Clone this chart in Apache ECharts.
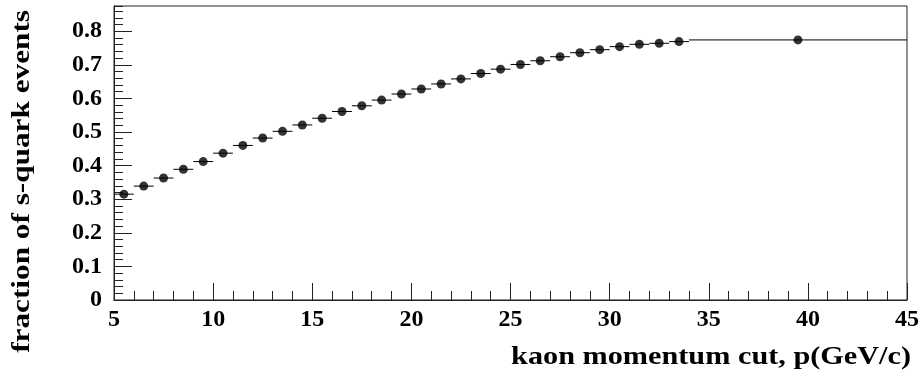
<!DOCTYPE html>
<html>
<head>
<meta charset="utf-8">
<script src="https://cdn.jsdelivr.net/npm/echarts@6/dist/echarts.min.js"></script>
<style>
  html, body { margin: 0; padding: 0; background: #fff; }
  #chart { width: 922px; height: 377px; }
</style>
</head>
<body>
<div id="chart"></div>
<script>
// Bin edges of the kaon momentum cut (GeV/c); the last bin is wide (34-45).
const binEdges = [5, 6, 7, 8, 9, 10, 11, 12, 13, 14, 15, 16, 17, 18, 19, 20,
  21, 22, 23, 24, 25, 26, 27, 28, 29, 30, 31, 32, 33, 34, 45];
// Fraction of s-quark events in each bin.
const fractions = [0.315, 0.339, 0.363, 0.389, 0.412, 0.437, 0.460, 0.482,
  0.502, 0.521, 0.541, 0.561, 0.578, 0.595, 0.613, 0.628, 0.643, 0.658,
  0.674, 0.687, 0.701, 0.712, 0.724, 0.736, 0.745, 0.754, 0.761, 0.764,
  0.769, 0.774];
const xTicks = [5, 10, 15, 20, 25, 30, 35, 40, 45];
const yTicks = [0, 0.1, 0.2, 0.3, 0.4, 0.5, 0.6, 0.7, 0.8];

const xTitle = 'kaon momentum cut, p(GeV/c)';
const yTitle = 'fraction of s-quark events';

// [low edge, high edge, value] for the horizontal bin-width bars
const barData = fractions.map((v, i) => [binEdges[i], binEdges[i + 1], v]);
// markers at bin centres
const pointData = fractions.map((v, i) => [(binEdges[i] + binEdges[i + 1]) / 2, v]);

const FONT = '"Liberation Serif", "Times New Roman", Times, serif';
const ink = '#000';

const chart = echarts.init(document.getElementById('chart'), null, { renderer: 'canvas' });

chart.setOption({
  animation: false,
  backgroundColor: '#fff',
  grid: {
    left: 114, right: 14, top: 6, bottom: 77,
    show: true, borderColor: '#222', borderWidth: 1, backgroundColor: 'transparent'
  },
  xAxis: {
    type: 'value',
    min: xTicks[0], max: xTicks[xTicks.length - 1], interval: xTicks[1] - xTicks[0],
    axisLine: { show: true, onZero: false, lineStyle: { color: '#222', width: 1 } },
    axisTick: { show: true, inside: true, length: 17, lineStyle: { color: '#222', width: 1 } },
    minorTick: { show: true, splitNumber: 5, length: 9, lineStyle: { color: '#222', width: 1 } },
    splitLine: { show: false },
    axisLabel: {
      margin: 8, color: ink, fontFamily: FONT, fontWeight: 'bold', fontSize: 24,
      formatter: v => String(v)
    }
  },
  yAxis: [
    {
      type: 'value', position: 'left',
      min: 0, max: 0.875, interval: 0.1,
      axisLine: { show: true, onZero: false, lineStyle: { color: '#222', width: 1 } },
      axisTick: { show: true, inside: true, length: 18, lineStyle: { color: '#222', width: 1 } },
      splitLine: { show: false },
      axisLabel: {
        margin: 12, color: ink, fontFamily: FONT, fontWeight: 'bold', fontSize: 24,
        showMaxLabel: false,
        formatter: v => (yTicks.some(t => Math.abs(t - v) < 1e-9) ? (v === 0 ? '0' : v.toFixed(1)) : '')
      }
    },
    {
      // fine ticks every 0.02
      type: 'value', position: 'left',
      min: 0, max: 0.875, interval: 0.02,
      axisLine: { show: false },
      axisTick: { show: true, inside: true, length: 9, lineStyle: { color: '#222', width: 1 } },
      splitLine: { show: false },
      axisLabel: { show: false }
    }
  ],
  graphic: [
    {
      type: 'text', x: 911, y: 358, scaleX: 1.21,
      style: {
        text: xTitle, align: 'right', verticalAlign: 'middle',
        font: 'bold 25px ' + FONT, fill: ink
      }
    },
    {
      type: 'text', x: 23, y: 10, rotation: Math.PI / 2, scaleX: 1.25,
      style: {
        text: yTitle, align: 'right', verticalAlign: 'middle',
        font: 'bold 25px ' + FONT, fill: ink
      }
    }
  ],
  series: [
    {
      type: 'custom',
      xAxisIndex: 0, yAxisIndex: 0,
      data: barData,
      renderItem: function (params, api) {
        const a = api.coord([api.value(0), api.value(2)]);
        const b = api.coord([api.value(1), api.value(2)]);
        return {
          type: 'line',
          shape: { x1: a[0], y1: a[1], x2: b[0], y2: b[1] },
          style: { stroke: '#000', lineWidth: 1 }
        };
      },
      z: 2
    },
    {
      type: 'scatter',
      xAxisIndex: 0, yAxisIndex: 0,
      data: pointData,
      symbol: 'circle', symbolSize: 9,
      itemStyle: { color: '#000' },
      z: 3
    }
  ]
});
</script>
</body>
</html>
